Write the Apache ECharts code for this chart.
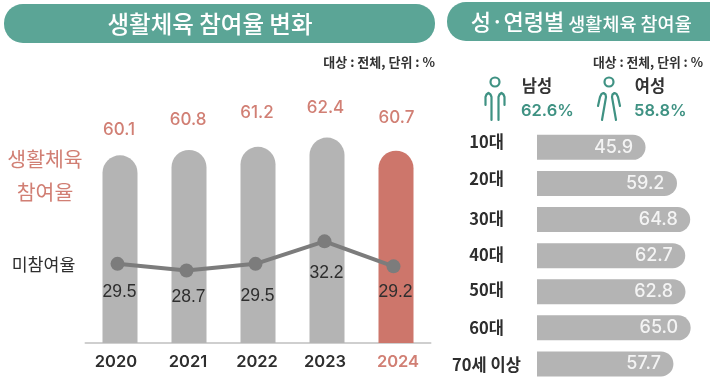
<!DOCTYPE html>
<html><head><meta charset="utf-8">
<style>html,body{margin:0;padding:0;background:#fff}#c{width:710px;height:382px}</style>
<script src="https://cdn.jsdelivr.net/npm/echarts@6/dist/echarts.min.js"></script>
</head><body><div id="c"></div>
<script>
const years = ['2020','2021','2022','2023','2024'];
const participation = [60.1,60.8,61.2,62.4,60.7];
const nonParticipation = [29.5,28.7,29.5,32.2,29.2];
const ageGroups = ['10대','20대','30대','40대','50대','60대','70세 이상'];
const ageValues = [45.9,59.2,64.8,62.7,62.8,65.0,57.7];
const participationNudgeY = [-17,-22,-25,-21,-24];
const participationNudgeX = [-1,-1,-1,-1.5,0.5];
const nonParticipationNudgeY = [12,11,16,16,10];
const yearNudgeX = [-4,-1,-1,-2,2];
const ageNudgeY = [-5.5,-4.5,-1,-1,-2.5,0,1];

const FONT = 'Inter, "Noto Sans CJK KR", sans-serif';
const KR = '"Noto Sans CJK KR", sans-serif';
const LIB = '"Liberation Sans", sans-serif';
const GREEN = '#5ba596', ICON = '#3f9283', RED = '#cd766b', SALMON='#d17f74', GREY = '#b4b4b4', DARK='#2e2e2e';

function txt(x,y,text,size,fill,weight,align){
  return {type:'text',x,y,silent:true,style:{text,fill,font:`${weight||400} ${size}px ${KR}`,textAlign:align||'center',textVerticalAlign:'middle'}};
}
function numTxt(x,y,text,size,fill,weight,align){
  return {type:'text',x,y,silent:true,style:{text,fill,font:`${weight||500} ${size}px ${FONT}`,textAlign:align||'left',textVerticalAlign:'middle'}};
}
function stroke(points){
  return {type:'polyline',silent:true,shape:{points},style:{fill:null,stroke:ICON,lineWidth:2.2,lineCap:'round',lineJoin:'round'}};
}
const graphics = [
  {type:'rect',silent:true,shape:{x:4,y:4,width:431,height:39,r:19},style:{fill:GREEN}},
  txt(210,24,'생활체육 참여율 변화',23.5,'#fff',500),
  {type:'rect',silent:true,shape:{x:447,y:2,width:290,height:39,r:19},style:{fill:GREEN}},
  txt(517.5,22,'성·연령별',22,'#fff',500),
  txt(630,24,'생활체육 참여율',18.5,'#fff',500),
  txt(435,62,'대상 : 전체, 단위 : %',13,'#333',700,'right'),
  txt(703,62,'대상 : 전체, 단위 : %',12.8,'#333',700,'right'),
  txt(45,159,'생활체육',20.5,SALMON,400),
  txt(45,192,'참여율',20.5,SALMON,400),
  txt(43.5,264,'미참여율',17.3,DARK,400),
  txt(537,86,'남성',16.5,'#333',700),
  numTxt(521,111,'62.6%',16.5,ICON,600),
  txt(650,86,'여성',16.5,'#333',700),
  numTxt(634,111,'58.8%',16.5,ICON,600),
  {type:'circle',silent:true,shape:{cx:495,cy:82,r:4.5},style:{fill:null,stroke:ICON,lineWidth:2.2}},
  stroke([[485.5,105],[485.5,97],[486.5,94.5],[488.5,93],[490.5,94.5],[491.5,97],[491.5,120]]),
  stroke([[504.5,105],[504.5,97],[503.5,94.5],[501.5,93],[499.5,94.5],[498.5,97],[498.5,120]]),
  {type:'circle',silent:true,shape:{cx:609,cy:82,r:4.5},style:{fill:null,stroke:ICON,lineWidth:2.2}},
  stroke([[598,106],[600,97],[601.5,94],[603.5,93],[605.5,94.5],[606,97],[602,120]]),
  stroke([[620,106],[618,97],[616.5,94],[614.5,93],[612.5,94.5],[612,97],[616,120]])
];

const yearRich = {};
years.forEach((y,i)=>{
  const n = yearNudgeX[i];
  yearRich['y'+i] = {fontFamily:FONT,fontSize:16.5,fontWeight:600,color:i===4?SALMON:DARK,
    padding:n<0?[0,-2*n,0,0]:[0,0,0,2*n]};
});
const ageRich = {};
ageGroups.forEach((a,i)=>{
  const n = ageNudgeY[i];
  ageRich['a'+i] = {fontFamily:KR,fontSize:16.5,fontWeight:600,color:DARK,
    padding:n<0?[0,0,-2*n,0]:[2*n,0,0,0]};
});

const option = {
  animation:false,
  backgroundColor:'#fff',
  grid:[
    {left:85.5,top:43,width:345,height:300},
    {left:537,top:129.3,width:165.5,height:255.5},
    {left:83,top:43,width:345,height:300}
  ],
  xAxis:[
    {type:'category',gridIndex:0,data:years,
     axisLine:{lineStyle:{color:'#cfcfcf',width:2}},axisTick:{show:false},
     axisLabel:{margin:11,rich:yearRich,formatter:(v,i)=>`{y${i}|${v}}`}},
    {type:'value',gridIndex:1,min:0,max:70,show:false},
    {type:'category',gridIndex:2,data:years,show:false}
  ],
  yAxis:[
    {type:'value',gridIndex:0,min:35.7,max:74.7,show:false},
    {type:'value',gridIndex:2,min:20,max:56,show:false},
    {type:'category',gridIndex:1,data:ageGroups,inverse:true,
     axisLine:{show:false},axisTick:{show:false},
     axisLabel:{margin:50.5,align:'center',rich:ageRich,formatter:(v,i)=>`{a${i}|${v}}`}}
  ],
  series:[
    {type:'bar',xAxisIndex:0,yAxisIndex:0,barWidth:35,
     data:participation.map((v,i)=>({
       value:v,
       itemStyle:{color:i===4?RED:GREY,borderRadius:[17.5,17.5,0,0]},
       label:{show:true,position:'top',distance:0,offset:[participationNudgeX[i],participationNudgeY[i]],
         fontFamily:FONT,fontSize:17,fontWeight:500,color:SALMON,formatter:p=>p.value.toFixed(1)}
     }))},
    {type:'line',xAxisIndex:2,yAxisIndex:1,z:5,data:nonParticipation.map((v,i)=>({
       value:v,
       label:{show:true,position:'bottom',distance:0,offset:[2,nonParticipationNudgeY[i]],
         fontFamily:LIB,fontSize:17.5,color:DARK,formatter:p=>p.value.toFixed(1)}
     })),
     symbol:'circle',symbolSize:14,lineStyle:{color:'#7c7c7c',width:4},itemStyle:{color:'#7c7c7c'}},
    {type:'bar',xAxisIndex:1,yAxisIndex:2,barWidth:25,data:ageValues,
     itemStyle:{color:GREY,borderRadius:[0,12.5,12.5,0]},
     label:{show:true,position:'insideRight',distance:12.5,fontFamily:FONT,fontSize:18,fontWeight:500,color:'#f4f4f4',
       formatter:p=>p.value.toFixed(1)}}
  ],
  graphic:graphics
};
echarts.init(document.getElementById('c'),null,{renderer:'canvas'}).setOption(option);
</script></body></html>
